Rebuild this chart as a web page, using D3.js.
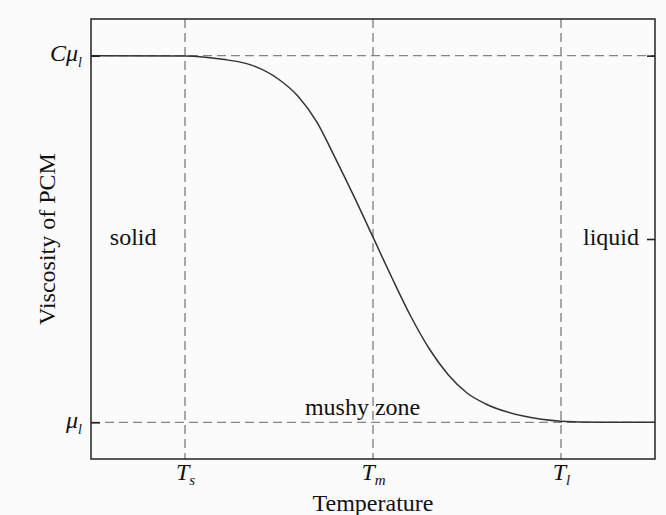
<!DOCTYPE html>
<html>
<head>
<meta charset="utf-8">
<script src="https://cdn.jsdelivr.net/npm/d3@7"></script>
<style>
  html, body { margin: 0; padding: 0; background: #fbfbfb; }
  svg { display: block; font-family: "Liberation Serif", "DejaVu Serif", serif; }
  .frame { fill: none; stroke: #222; stroke-width: 1.5; }
  .guide { stroke: #858585; stroke-width: 1.4; stroke-dasharray: 9 5; fill: none; }
  .axis path { display: none; }
  .axis line { stroke: #222; stroke-width: 1.6; }
  .axis text { fill: #111; font-family: "Liberation Serif", "DejaVu Serif", serif; }
  .note { fill: #111; font-size: 24px; font-family: "Liberation Serif", "DejaVu Serif", serif; }
</style>
</head>
<body>
<svg id="chart" width="666" height="515" viewBox="0 0 666 515"></svg>
<script>
// temperatures normalised so that Ts = 0, Tm = 1, Tl = 2
// viscosity normalised so that mu_l = 0, C*mu_l = 1
const temperature = [-0.5, 0, 0.2, 0.35, 0.5, 0.6, 0.7, 0.8, 0.9, 1.0, 1.1, 1.2, 1.3, 1.4, 1.5, 1.6, 1.8, 2.0, 2.2, 2.5];
const viscosity =   [1, 0.999, 0.99, 0.975, 0.935, 0.89, 0.82, 0.72, 0.615, 0.505, 0.395, 0.29, 0.2, 0.13, 0.08, 0.05, 0.017, 0.003, 0, 0];

const xTickValues = [0, 1, 2];
const xTickNames = [["T", "s"], ["T", "m"], ["T", "l"]];
const yTickValues = [0, 1];
const yTickNames = [["", "\u03bc", "l"], ["C", "\u03bc", "l"]];
const rightTickValues = [1, 0.5];

const annotations = [
  { text: "solid", t: -0.4, v: 0.484, anchor: "start" },
  { text: "liquid", t: 2.415, v: 0.484, anchor: "end" },
  { text: "mushy zone", t: 0.638, v: 0.02, anchor: "start" }
];

const svg = document.getElementById("chart");
const root = d3.select(svg);
const width = 666;
const height = 515;
const margin = { top: 19, right: 11, bottom: 56, left: 91 };

const xScale = d3.scaleLinear().domain([-0.5, 2.5]).range([margin.left, width - margin.right]);
const yScale = d3.scaleLinear().domain([-0.1, 1.1]).range([height - margin.bottom, margin.top]);

root.append("rect")
  .attr("width", width)
  .attr("height", height)
  .attr("fill", "#fbfbfb");

// dashed guides
root.append("g")
  .selectAll("line")
  .data(yTickValues)
  .join("line")
  .attr("class", "guide")
  .attr("x1", margin.left)
  .attr("x2", width - margin.right)
  .attr("y1", v => yScale(v))
  .attr("y2", v => yScale(v));

root.append("g")
  .selectAll("line")
  .data(xTickValues)
  .join("line")
  .attr("class", "guide")
  .attr("x1", t => xScale(t))
  .attr("x2", t => xScale(t))
  .attr("y1", margin.top)
  .attr("y2", height - margin.bottom);

// curve
const points = temperature.map((t, i) => ({ x: t, y: viscosity[i] }));
const line = d3.line()
  .x(p => xScale(p.x))
  .y(p => yScale(p.y))
  .curve(d3.curveMonotoneX);

root.append("path")
  .attr("d", line(points))
  .attr("fill", "none")
  .attr("stroke", "#333")
  .attr("stroke-width", 1.5);

// axes
const xAxis = root.append("g")
  .attr("class", "axis")
  .attr("transform", `translate(0, ${height - margin.bottom})`)
  .call(d3.axisBottom(xScale).tickValues(xTickValues).tickSize(0).tickPadding(8).tickFormat(""));

xAxis.selectAll(".tick text")
  .attr("dy", "0.55em")
  .style("font-size", "24px")
  .each(function (_d, i) {
    const node = d3.select(this);
    node.append("tspan").style("font-style", "italic").text(xTickNames[i][0]);
    node.append("tspan").attr("dy", 5).style("font-size", "15px").style("font-style", "italic").text(xTickNames[i][1]);
  });

const yAxis = root.append("g")
  .attr("class", "axis")
  .attr("transform", `translate(${margin.left}, 0)`)
  .call(d3.axisLeft(yScale).tickValues(yTickValues).tickSizeInner(-9).tickSizeOuter(0).tickPadding(8).tickFormat(""));

yAxis.selectAll(".tick text")
  .attr("dy", "0.2em")
  .attr("x", -9)
  .style("font-size", "24px")
  .each(function (_d, i) {
    const node = d3.select(this);
    const parts = yTickNames[i];
    if (parts[0]) node.append("tspan").style("font-style", "italic").text(parts[0]);
    node.append("tspan").style("font-style", "italic").text(parts[1]);
    node.append("tspan").attr("dy", 6).style("font-size", "14px").style("font-style", "italic").text(parts[2]);
  });

root.append("g")
  .attr("class", "axis")
  .attr("transform", `translate(${width - margin.right}, 0)`)
  .call(d3.axisRight(yScale).tickValues(rightTickValues).tickSizeInner(-8).tickSizeOuter(0).tickFormat(""));

// frame
root.append("rect")
  .attr("class", "frame")
  .attr("x", margin.left)
  .attr("y", margin.top)
  .attr("width", width - margin.left - margin.right)
  .attr("height", height - margin.top - margin.bottom);

// region labels
root.append("g")
  .selectAll("text")
  .data(annotations)
  .join("text")
  .attr("class", "note")
  .attr("x", d => xScale(d.t))
  .attr("y", d => yScale(d.v))
  .attr("text-anchor", d => d.anchor)
  .text(d => d.text);

// axis titles
root.append("text")
  .attr("class", "note")
  .attr("x", xScale(1))
  .attr("y", height - 4)
  .attr("text-anchor", "middle")
  .text("Temperature");

root.append("text")
  .attr("class", "note")
  .attr("transform", `translate(55, ${(margin.top + height - margin.bottom) / 2}) rotate(-90)`)
  .attr("text-anchor", "middle")
  .text("Viscosity of PCM");
</script>
</body>
</html>
